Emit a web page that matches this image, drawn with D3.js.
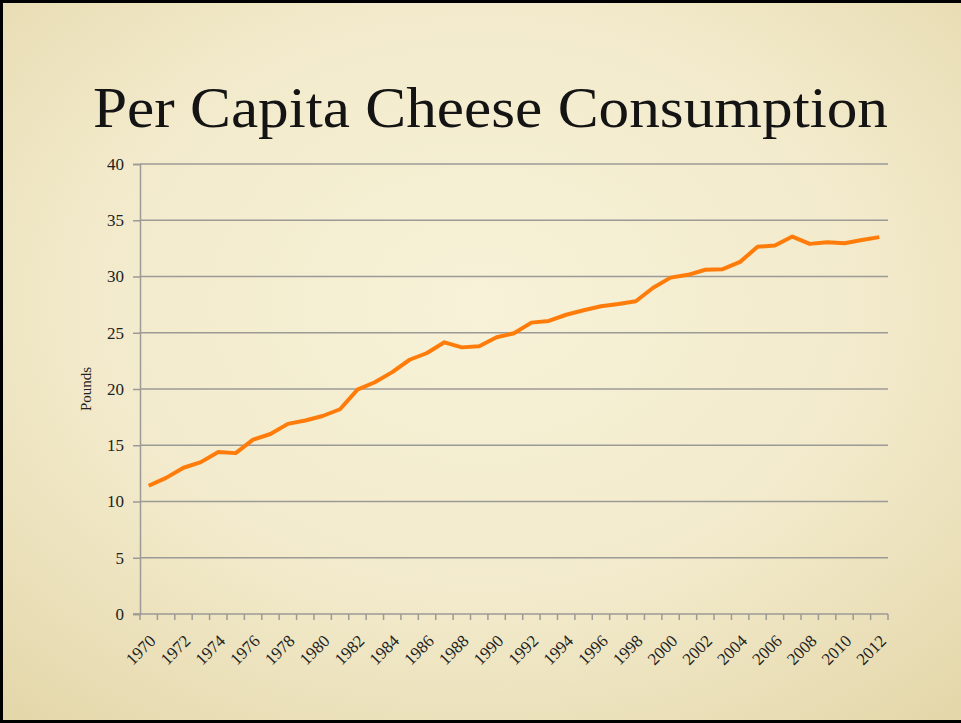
<!DOCTYPE html>
<html><head><meta charset="utf-8">
<script src="https://cdn.jsdelivr.net/npm/d3@7"></script>
<style>
html,body{margin:0;padding:0;background:#f1e9c8;}
svg{display:block;}
</style></head>
<body>
<svg id="c" width="961" height="723"></svg>
<script>
const years = d3.range(1970, 2013);
const pounds = [11.4, 12.1, 13.0, 13.5, 14.4, 14.3, 15.5, 16.0, 16.9, 17.2,
  17.6, 18.2, 19.95, 20.6, 21.5, 22.6, 23.2, 24.15, 23.7, 23.8,
  24.6, 24.95, 25.9, 26.05, 26.6, 27.0, 27.35, 27.55, 27.8, 29.0,
  29.9, 30.15, 30.6, 30.65, 31.3, 32.65, 32.75, 33.55, 32.9, 33.05,
  32.95, 33.25, 33.5];
const yTicks = [0, 5, 10, 15, 20, 25, 30, 35, 40];
const xLabelYears = years.filter(y => y % 2 === 0);
const titleText = "Per Capita Cheese Consumption";
const yAxisTitle = "Pounds";

(function(){
const svg = d3.select("#c");
const W = 961, H = 723;
const defs = svg.append("defs");
const g1 = defs.append("radialGradient").attr("id","bg").attr("cx","50%").attr("cy","42%").attr("r","75%");
g1.append("stop").attr("offset","0%").attr("stop-color","#f7f2d8");
g1.append("stop").attr("offset","55%").attr("stop-color","#f2eacb");
g1.append("stop").attr("offset","100%").attr("stop-color","#e4d7aa");
svg.append("rect").attr("width",W).attr("height",H).attr("fill","url(#bg)");

// frame
svg.append("rect").attr("x",0).attr("y",0).attr("width",W).attr("height",3).attr("fill","#000");
svg.append("rect").attr("x",0).attr("y",0).attr("width",3).attr("height",H).attr("fill","#000");
svg.append("rect").attr("x",0).attr("y",H-3).attr("width",W).attr("height",3).attr("fill","#000");

const serif = "'Liberation Serif','DejaVu Serif',serif";
const pl = 140, pr = 888, pt = 164, pb = 614;

const x = d3.scaleBand().domain(years).range([pl, pr]).paddingInner(0).paddingOuter(0);
const y = d3.scaleLinear().domain([0, 40]).range([pb, pt]);

// title
svg.append("text").attr("x", 93).attr("y", 127)
  .attr("font-family", serif).attr("font-size", 58).attr("fill","#141414")
  .attr("textLength", 795).attr("lengthAdjust", "spacingAndGlyphs").text(titleText);

// gridlines
svg.append("g").selectAll("line").data(yTicks.filter(d => d > 0)).join("line")
  .attr("x1", pl).attr("x2", pr).attr("y1", d => y(d)).attr("y2", d => y(d))
  .attr("stroke", "#9c9a96").attr("stroke-width", 1.5);

// y axis
const yAxis = svg.append("g").attr("transform", `translate(${pl},0)`)
  .call(d3.axisLeft(y).tickValues(yTicks).tickSize(7).tickPadding(9));
yAxis.select(".domain").attr("stroke","#9c9a96").attr("stroke-width",1.5);
yAxis.selectAll(".tick line").attr("stroke","#9c9a96").attr("stroke-width",1.5);
yAxis.selectAll("text").attr("font-family", serif).attr("font-size", 17).attr("fill","#222");

// x axis baseline and boundary ticks
const xg = svg.append("g");
xg.append("line").attr("x1", pl-7).attr("x2", pr).attr("y1", pb).attr("y2", pb)
  .attr("stroke","#9c9a96").attr("stroke-width",1.5);
const bounds = years.map(d => x(d)).concat([x(years[years.length-1]) + x.bandwidth()]);
xg.selectAll("line.tk").data(bounds).join("line").attr("class","tk")
  .attr("x1", d => d).attr("x2", d => d).attr("y1", pb).attr("y2", pb + 6)
  .attr("stroke","#9c9a96").attr("stroke-width",1.5);
xg.selectAll("text").data(xLabelYears).join("text")
  .attr("transform", d => `translate(${x(d) + x.bandwidth()/2 + 8},${pb + 28}) rotate(-45)`)
  .attr("text-anchor","end").attr("font-family", serif).attr("font-size", 17).attr("fill","#222")
  .text(d => d);

// y title
svg.append("text").attr("transform", `translate(91,${(pt+pb)/2}) rotate(-90)`)
  .attr("text-anchor","middle").attr("font-family", serif).attr("font-size", 15).attr("fill","#222")
  .text(yAxisTitle);

// line
const line = d3.line().x((d,i) => x(years[i]) + x.bandwidth()/2).y(d => y(d));
svg.append("path").datum(pounds).attr("d", line).attr("fill","none")
  .attr("stroke","#ff7c0a").attr("stroke-width",4).attr("stroke-linejoin","round");
})();
</script>
</body></html>
